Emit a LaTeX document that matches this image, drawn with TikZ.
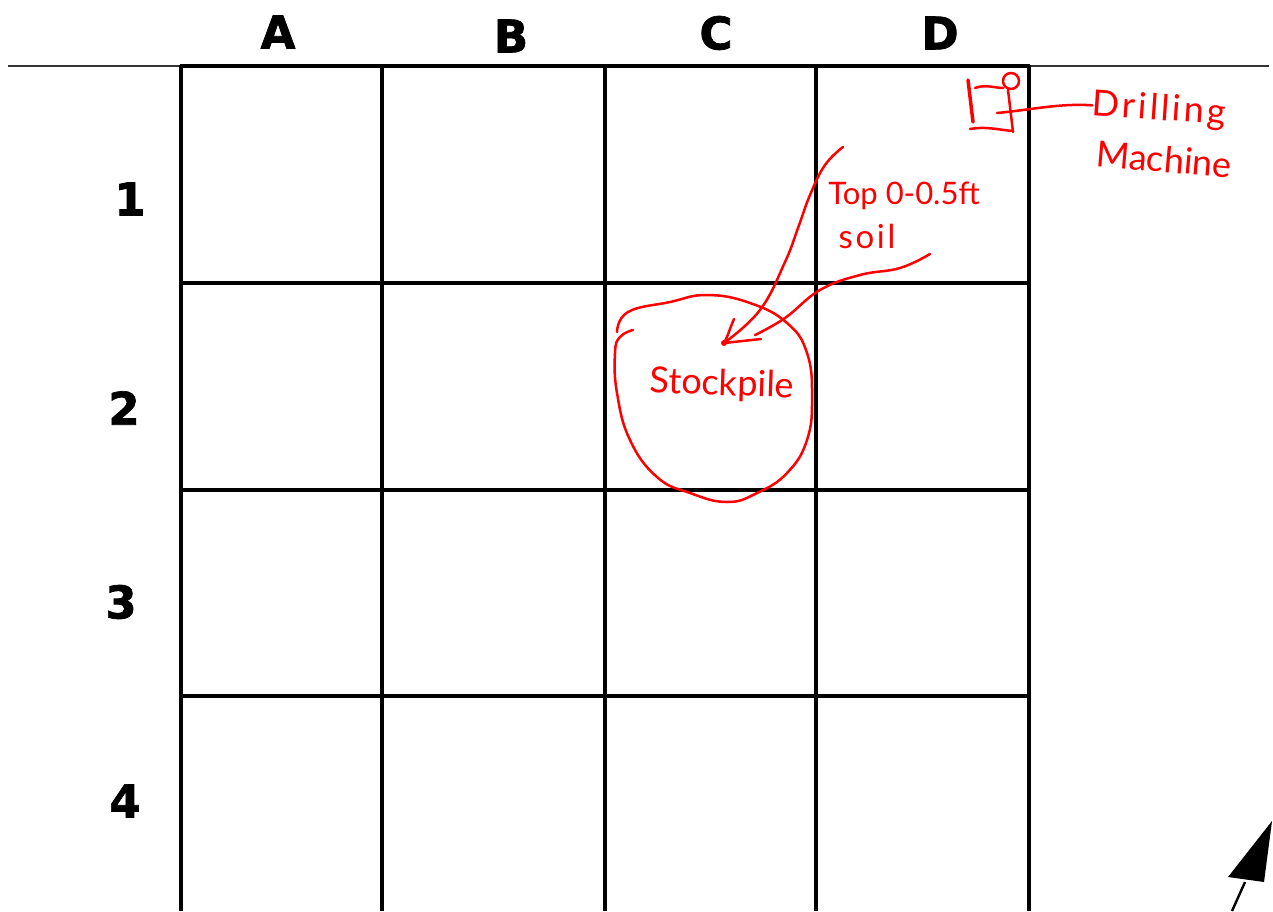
\documentclass[tikz,border=0pt]{standalone}
\usepackage{fontspec}
\setmainfont{Liberation Sans}
\newfontfamily\headfont[BoldFeatures={FakeBold=1.6}]{DejaVu Sans}
\newfontfamily\handfont{Lato}
\newfontfamily\handwide[LetterSpace=8]{Lato}
\newfontfamily\handsoil[LetterSpace=8]{Lato}
\usetikzlibrary{calc}
\tikzset{
  gridline/.style={black,line width=3.2pt},
  topline/.style={black!80,line width=1.2pt},
  heading/.style={font=\headfont\bfseries\fontsize{45}{45}\selectfont,text=black,inner sep=0pt,anchor=center},
  hand/.style={red,line width=2.5pt,line cap=round,line join=round},
  handthick/.style={hand,line width=3.5pt},
  handtext/.style={text=red,inner sep=0pt,anchor=center,font=\handfont\fontsize{36}{36}\selectfont},
  smalltext/.style={handtext,font=\handfont\fontsize{31}{31}\selectfont},
}
\begin{document}
\begin{tikzpicture}[x=1pt,y=-1pt]
\useasboundingbox (0,0) rectangle (1273,911);
% grid
\draw[topline] (8,66) -- (1269,66);
\foreach \x in {181,382,605,816,1029} \draw[gridline] (\x,65) -- (\x,911);
\foreach \y in {66,283,490,696} \draw[gridline] (180,\y) -- (1030,\y);
% headings
\node[heading] (colA) at (278,32) {A};
\node[heading] (colB) at (511,36) {B};
\node[heading] (colC) at (716,33) {C};
\node[heading] (colD) at (940,33) {D};
\node[heading] (row1) at (130,199) {1};
\node[heading] (row2) at (124,408) {2};
\node[heading] (row3) at (121,602) {3};
\node[heading] (row4) at (125,801) {4};
% stockpile outline
\draw[hand] plot[smooth,tension=0.75] coordinates {(617,332) (628,312) (670,302) (707,295) (750,303) (787,323) (807,353) (812,397) (807,440) (787,473) (757,493) (727,502) (690,493) (657,477) (630,440) (617,393) (615,353) (620,337) (633,330)};
\node[handtext,rotate=-2] (stock) at (722,385) {Stockpile};
% arrows to stockpile
\coordinate (tip) at (724,343);
\coordinate (from1) at (843,147);
\coordinate (from2) at (930,254);
\draw[hand] plot[smooth,tension=0.7] coordinates {(from1) (825,165) (810,195) (798,228) (785,262) (760,310) (tip)};
\draw[hand] plot[smooth,tension=0.7] coordinates {(from2) (900,268) (860,275) (820,290) (785,318) (755,335)};
\draw[hand] (734,319) .. controls (730,328) and (728,336) .. (tip) -- (761,339);
\fill[red] (tip) circle (3);
% soil label
\node[smalltext] (top) at (904,196) {Top 0-0.5ft};
\node[handtext,font=\handsoil\fontsize{33}{33}\selectfont] (soil) at (867,236) {soil};
% drilling machine
\draw[handthick] (968,80) -- (973,122);
\draw[hand] (975,88) .. controls (985,84) and (995,88) .. (1003,88);
\draw[hand] (1011,81) circle (8);
\draw[hand] (1008,90) -- (1013,132);
\draw[hand] (970,129) .. controls (985,126) and (1000,130) .. (1013,131);
\coordinate (mach) at (997,113);
\node[handtext,font=\handwide\fontsize{36}{36}\selectfont,rotate=-4] (drill) at (1159,110) {Drilling};
\node[handtext,rotate=-5] (machl) at (1164,159) {Machine};
\draw[hand] (mach) .. controls (1030,110) and (1060,103) .. (drill.west);
% north arrow
\coordinate (nA) at (1272,821);
\coordinate (nB) at (1228,877);
\coordinate (nC) at (1264,882);
\fill[black] (nA) -- (nB) -- (nC) -- cycle;
\coordinate (nD) at (1245,882);
\coordinate (nE) at (1232,911);
\draw[black,line width=2.4pt] (nD) -- (nE);
\end{tikzpicture}
\end{document}
